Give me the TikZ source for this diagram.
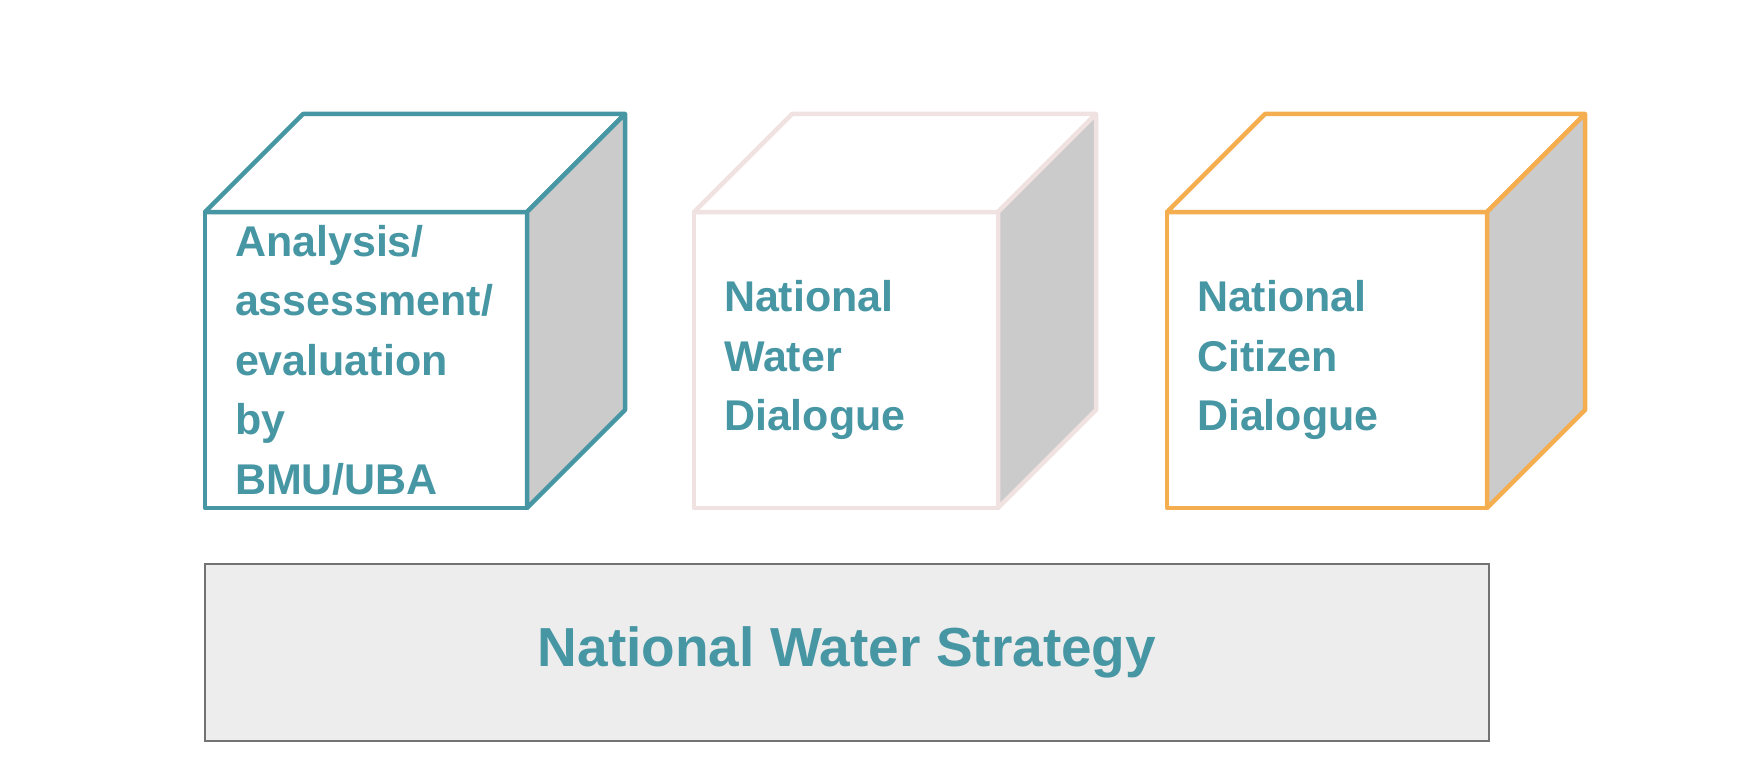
\documentclass[tikz,border=0pt]{standalone}
\usepackage{fontspec}
\setmainfont{Liberation Sans}
\usetikzlibrary{positioning}
\definecolor{wteal}{HTML}{4796A4}
\definecolor{wpink}{HTML}{F0E2E0}
\definecolor{worange}{HTML}{F4AD4F}
\definecolor{wside}{HTML}{CBCBCB}
\definecolor{wbase}{HTML}{EDEDED}
\definecolor{wframe}{HTML}{737373}
\tikzset{
	face/.style={draw, fill=white, line width=4.5pt, line join=round, outer sep=0pt, inner xsep=30pt, inner ysep=0pt, minimum height=296pt, align=left, text=wteal, font=\fontsize{43}{59.5}\selectfont\bfseries},
	base/.style={draw=wframe, fill=wbase, line width=2pt, outer sep=0pt, minimum width=1284pt, minimum height=177pt, text=wteal, font=\fontsize{55}{66}\selectfont\bfseries}
}
\begin{document}
\begin{tikzpicture}[x=1pt, y=-1pt]
	\useasboundingbox (0,0) rectangle (1760,778);
	% front faces of the cubes
	\node [face, draw=wteal, text width=262pt] (analysis) at (366,360) {Analysis/\\assessment/\\evaluation\\by\\BMU/UBA};
	\node [face, draw=wpink, text width=244pt] (water) at (846,360) {National\\Water\\Dialogue};
	\node [face, draw=worange, text width=260pt] (citizen) at (1327,360) {National\\Citizen\\Dialogue};
	% top and side faces
	\foreach \c/\col in {analysis/wteal, water/wpink, citizen/worange} {
		\draw [\col, line width=4.5pt, line join=round, fill=white] (\c.north west) -- ++(98,-98) -- ([shift={(98,-98)}]\c.north east) -- (\c.north east) -- cycle;
		\draw [\col, line width=4.5pt, line join=round, fill=wside] (\c.north east) -- ([shift={(98,-98)}]\c.north east) -- ([shift={(98,-98)}]\c.south east) -- (\c.south east) -- cycle;
	}
	\node [base] (strategy) at (847,652.5) {National Water Strategy};
\end{tikzpicture}
\end{document}
